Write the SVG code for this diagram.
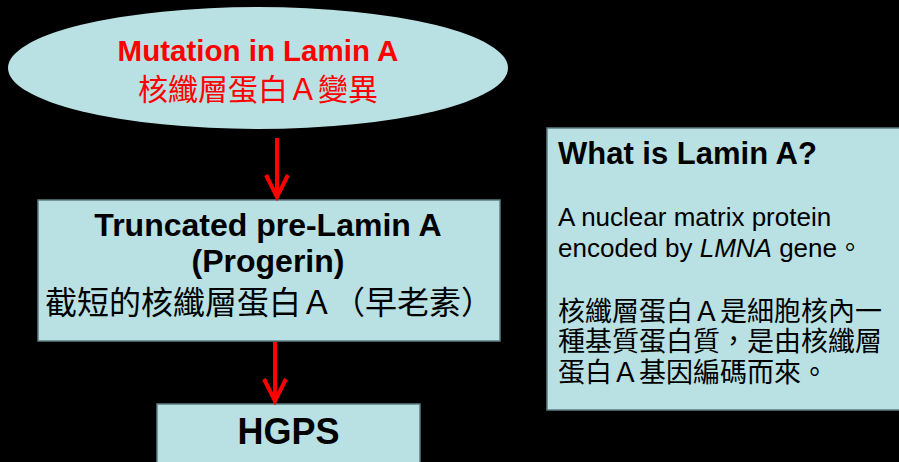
<svg xmlns="http://www.w3.org/2000/svg" width="899" height="462" viewBox="0 0 899 462">
  <style>
    .bg { fill: #000000; }
    .node { fill: #B9E0E3; stroke: #5E7E82; stroke-width: 1.5; }
    .ell { fill: #B9E0E3; stroke: none; }
    .t { font-family: 'Liberation Sans', 'Noto Sans CJK TC', sans-serif; fill: #000000; }
    .cjk { font-family: 'Noto Sans CJK TC', 'Liberation Sans', sans-serif; fill: #000000; }
    .b { font-weight: bold; }
    .red { fill: #FF0000; }
    .conn { stroke: #FF0000; stroke-width: 4; fill: none; }
  </style>
  <defs>
    <marker id="arr" markerUnits="userSpaceOnUse" orient="auto" refX="0" refY="0" markerWidth="30" markerHeight="30" overflow="visible">
      <path d="M-22,-11 L0,0 L-22,11" fill="none" stroke="#FF0000" stroke-width="4" stroke-linejoin="miter"/>
    </marker>
  </defs>
  <rect class="bg" x="0" y="0" width="899" height="462"/>

  <g id="mutation">
    <ellipse class="ell" cx="258" cy="68" rx="250" ry="61"/>
    <text class="t b red" x="258" y="61" font-size="29.5" text-anchor="middle">Mutation in Lamin A</text>
    <text class="cjk red" x="258" y="100" font-size="30" text-anchor="middle">核纖層蛋白Ａ變異</text>
  </g>

  <g id="truncated">
    <rect class="node" x="38" y="200" width="462" height="141"/>
    <text class="t b" x="268" y="236" font-size="32" text-anchor="middle">Truncated pre-Lamin A</text>
    <text class="t b" x="268" y="272" font-size="32" text-anchor="middle">(Progerin)</text>
    <text class="cjk" x="45" y="314" font-size="32">截短的核纖層蛋白Ａ（早老素）</text>
  </g>

  <g id="hgps">
    <rect class="node" x="157" y="404" width="263" height="70"/>
    <text class="t b" x="288.5" y="444" font-size="36" text-anchor="middle">HGPS</text>
  </g>

  <g id="whatis">
    <rect class="node" x="547" y="128" width="360" height="282"/>
    <text class="t b" x="558" y="164" font-size="31">What is Lamin A?</text>
    <text class="t" font-size="26"><tspan x="558" y="226">A nuclear matrix protein</tspan><tspan x="558" y="257">encoded by <tspan font-style="italic">LMNA</tspan> gene。</tspan></text>
    <text class="cjk" font-size="27"><tspan x="558" y="321">核纖層蛋白Ａ是細胞核內一</tspan><tspan x="558" y="351">種基質蛋白質，是由核纖層</tspan><tspan x="558" y="382">蛋白Ａ基因編碼而來。</tspan></text>
  </g>

  <g id="connectors">
    <line class="conn" x1="277" y1="138" x2="277" y2="197" marker-end="url(#arr)"/>
    <line class="conn" x1="275" y1="342" x2="275" y2="401" marker-end="url(#arr)"/>
  </g>
</svg>
